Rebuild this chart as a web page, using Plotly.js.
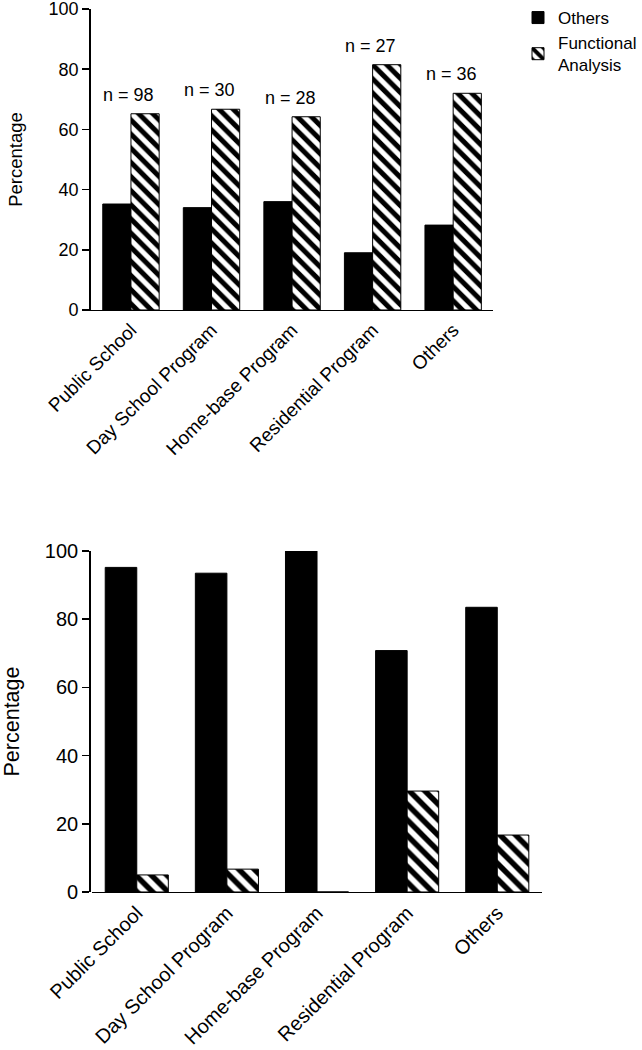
<!DOCTYPE html>
<html>
<head>
<meta charset="utf-8">
<script src="https://cdn.plot.ly/plotly-3.0.1.min.js"></script>
<style>
  html, body { margin: 0; padding: 0; background: #fff; }
  #chart { width: 642px; height: 1050px; }
</style>
</head>
<body>
<div id="chart"></div>
<script>
// ── Data ──────────────────────────────────────────────────────────────────

const settings = ['Public School', 'Day School Program', 'Home-base Program', 'Residential Program', 'Others'];
const nLabels = ['n = 98', 'n = 30', 'n = 28', 'n = 27', 'n = 36'];

// top panel
const topOthers = [35.2, 34.0, 36.0, 19.0, 28.2];
const topFunctional = [65.2, 66.7, 64.2, 81.5, 72.0];

// bottom panel
const bottomOthers = [95.2, 93.5, 100, 70.8, 83.5];
const bottomFunctional = [5.0, 6.7, 0, 29.6, 16.7];

// ── Style ─────────────────────────────────────────────────────────────────

const FONT = 'Liberation Sans, Arial, Helvetica, sans-serif';
const OUTLINE = { color: '#000', width: 1 };

function hatch(size) {
  return { shape: '\\', fgcolor: '#000', bgcolor: '#fff', size: size, solidity: 0.5 };
}

function yAxis(domain, fontSize, titleSize, standoff) {
  return {
    domain: domain, range: [0, 100], dtick: 20,
    ticks: 'outside', ticklen: 7, tickwidth: 1.5, tickcolor: '#000',
    showline: true, linecolor: '#000', linewidth: 1.5,
    showgrid: false, zeroline: false,
    ticklabeloverflow: 'allow',
    tickfont: { family: FONT, size: fontSize, color: '#000' },
    title: { text: 'Percentage', standoff: standoff, font: { family: FONT, size: titleSize, color: '#000' } },
    fixedrange: true,
  };
}

function xAxis(domain, anchor, fontSize) {
  return {
    domain: domain, anchor: anchor, type: 'category', range: [-0.5, 4.5],
    tickangle: -45, ticks: '',
    showline: true, linecolor: '#000', linewidth: 1.5,
    showgrid: false, zeroline: false,
    tickfont: { family: FONT, size: fontSize, color: '#000' },
    fixedrange: true,
  };
}

// ── Traces ────────────────────────────────────────────────────────────────

const traces = [
  {
    x: settings, y: topOthers, type: 'bar', name: 'Others',
    xaxis: 'x', yaxis: 'y',
    marker: { color: '#000', line: OUTLINE },
  },
  {
    x: settings, y: topFunctional, type: 'bar', name: 'Functional<br>Analysis',
    xaxis: 'x', yaxis: 'y',
    marker: { color: '#fff', line: OUTLINE, pattern: hatch(10) },
  },
  {
    x: settings, y: bottomOthers, type: 'bar', name: 'Others', showlegend: false,
    xaxis: 'x2', yaxis: 'y2',
    marker: { color: '#000', line: OUTLINE },
  },
  {
    x: settings, y: bottomFunctional, type: 'bar', name: 'Functional Analysis', showlegend: false,
    xaxis: 'x2', yaxis: 'y2',
    marker: { color: '#fff', line: OUTLINE, pattern: hatch(11) },
  },
];

// n labels sit just above the taller bar of each group
const annotations = settings.map((s, i) => ({
  x: s, y: Math.max(topOthers[i], topFunctional[i]),
  xref: 'x', yref: 'y',
  text: nLabels[i], showarrow: false,
  yanchor: 'bottom', yshift: 7, xshift: -2,
  font: { family: FONT, size: 18, color: '#000' },
}));

const layout = {
  width: 642, height: 1050,
  margin: { l: 0, r: 0, t: 0, b: 0 },
  paper_bgcolor: '#fff', plot_bgcolor: '#fff',
  barmode: 'group', bargap: 0.3, bargroupgap: 0,
  showlegend: true,
  legend: {
    x: 0.81, y: 1, xanchor: 'left', yanchor: 'top',
    font: { family: FONT, size: 17, color: '#000' },
    bgcolor: 'rgba(0,0,0,0)',
  },
  xaxis: xAxis([0.1417, 0.7710], 'y', 19),
  yaxis: yAxis([0.7048, 0.9914], 18, 18.5, 21),
  xaxis2: xAxis([0.1433, 0.8474], 'y2', 20),
  yaxis2: yAxis([0.1505, 0.4752], 20, 21.5, 32),
  annotations: annotations,
};

Plotly.newPlot('chart', traces, layout, { displayModeBar: false, staticPlot: true });
</script>
</body>
</html>
